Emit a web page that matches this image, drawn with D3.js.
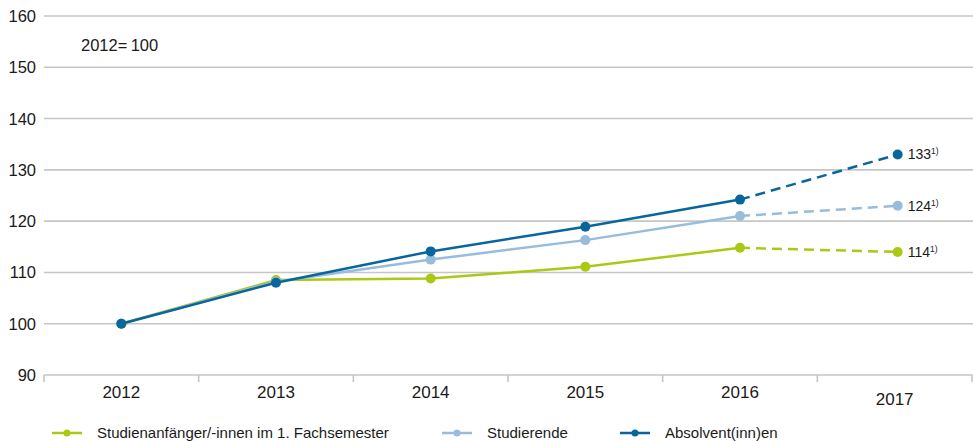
<!DOCTYPE html>
<html>
<head>
<meta charset="utf-8">
<script src="https://cdn.jsdelivr.net/npm/d3@7"></script>
<style>
  body { margin: 0; background: #fff; }
  svg { font-family: "Liberation Sans", Arial, sans-serif; }
</style>
</head>
<body>
<svg id="chart" width="973" height="441"></svg>
<script>
const width = 973;
const height = 441;

// Data (index, 2012 = 100)
const years = ["2012", "2013", "2014", "2015", "2016", "2017"];
const anfaenger = [100, 108.5, 108.8, 111.1, 114.8, 114.0];
const studierende = [100, 108.2, 112.5, 116.3, 121.0, 123.0];
const absolventen = [100, 108.0, 114.1, 118.9, 124.2, 133.0];
const yTicks = [90, 100, 110, 120, 130, 140, 150, 160];
const endLabels = ["114", "124", "133"];
const seriesNames = ["Studienanfänger/-innen im 1. Fachsemester", "Studierende", "Absolvent(inn)en"];
const colors = ["#abc814", "#98bcdc", "#07679d"];

const series = [anfaenger, studierende, absolventen];

const svg = d3.select("#chart");

const x = d3.scaleBand().domain(years).range([44, 972]);
const y = d3.scaleLinear().domain([90, 160]).range([375, 16]);

// Gridlines
svg.append("g")
  .selectAll("line")
  .data(yTicks.slice(1))
  .join("line")
  .attr("x1", 44)
  .attr("x2", width)
  .attr("y1", d => y(d))
  .attr("y2", d => y(d))
  .attr("stroke", "#c6c6c6")
  .attr("stroke-width", 1.6);

// Y tick labels
svg.append("g")
  .selectAll("text")
  .data(yTicks)
  .join("text")
  .attr("x", 36)
  .attr("y", d => y(d) + 6)
  .attr("text-anchor", "end")
  .attr("font-size", 16.5)
  .attr("fill", "#1a1a1a")
  .text(d => d);

// X axis
const xAxis = svg.append("g").attr("transform", `translate(0,${y(90)})`);
xAxis.append("line")
  .attr("x1", 44).attr("x2", width)
  .attr("stroke", "#c6c6c6").attr("stroke-width", 1.6);
xAxis.selectAll("line.tick")
  .data(years.map(d => x(d)).concat([x.range()[1]]))
  .join("line")
  .attr("class", "tick")
  .attr("x1", d => d).attr("x2", d => d)
  .attr("y1", 0).attr("y2", 7)
  .attr("stroke", "#c6c6c6").attr("stroke-width", 1.6);
xAxis.selectAll("text")
  .data(years)
  .join("text")
  .attr("x", d => x(d) + x.bandwidth() / 2)
  .attr("y", (d, i) => i === years.length - 1 ? 30 : 23)
  .attr("text-anchor", "middle")
  .attr("font-size", 17)
  .attr("fill", "#1a1a1a")
  .text(d => d);

// Annotation
svg.append("text")
  .attr("x", 81).attr("y", 51)
  .attr("font-size", 16.5)
  .attr("fill", "#1a1a1a")
  .text("2012=\u2009100");

const cx = (d, i) => x(years[i]) + x.bandwidth() / 2 + (i === years.length - 1 ? 3 : 0);
const line = d3.line().x((d, i) => cx(d, i)).y(d => y(d));

series.forEach((values, s) => {
  const g = svg.append("g");
  const solid = values.slice(0, 5);
  g.append("path")
    .attr("d", line(solid))
    .attr("fill", "none")
    .attr("stroke", colors[s])
    .attr("stroke-width", 2.5);
  // dashed projection 2016 -> 2017
  g.append("path")
    .attr("d", d3.line().x((d, i) => cx(d, i + 4)).y(d => y(d))(values.slice(4)))
    .attr("fill", "none")
    .attr("stroke", colors[s])
    .attr("stroke-width", 2.5)
    .attr("stroke-dasharray", "10,6");
  g.selectAll("circle")
    .data(values)
    .join("circle")
    .attr("cx", (d, i) => cx(d, i))
    .attr("cy", d => y(d))
    .attr("r", 5)
    .attr("fill", colors[s]);
  // end label
  const lab = g.append("text")
    .attr("x", cx(values[5], 5) + 10)
    .attr("y", y(values[5]) + 5)
    .attr("font-size", 14)
    .attr("fill", "#1a1a1a");
  lab.append("tspan").text(endLabels[s]);
  lab.append("tspan").attr("font-size", 8.5).attr("dy", -5).text("1)");
});

// Legend
const legendX = [52, 442, 620];
const legend = svg.append("g").attr("transform", "translate(0,433)");
seriesNames.forEach((name, i) => {
  const lg = legend.append("g").attr("transform", `translate(${legendX[i]},0)`);
  lg.append("line").attr("x1", 0).attr("x2", 30)
    .attr("stroke", colors[i]).attr("stroke-width", 2.5);
  lg.append("circle").attr("cx", 15).attr("r", 3.5).attr("fill", colors[i]);
  lg.append("text").attr("x", 45).attr("y", 5)
    .attr("font-size", 15).attr("fill", "#1a1a1a")
    .text(name);
});
</script>
</body>
</html>
